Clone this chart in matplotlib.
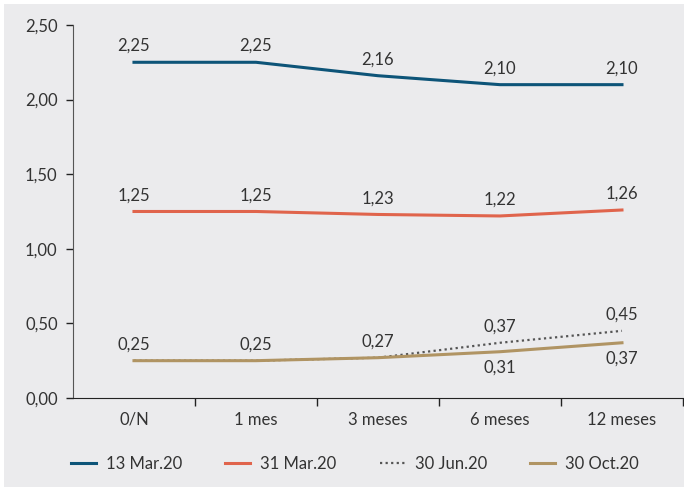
import matplotlib.pyplot as plt
from matplotlib.patches import Rectangle

plt.rcParams['font.family'] = ['Lato', 'DejaVu Sans']

categories = ['0/N', '1 mes', '3 meses', '6 meses', '12 meses']
series_names = ['13 Mar.20', '31 Mar.20', '30 Jun.20', '30 Oct.20']
mar13 = [2.25, 2.25, 2.16, 2.10, 2.10]
mar31 = [1.25, 1.25, 1.23, 1.22, 1.26]
jun30 = [0.25, 0.25, 0.27, 0.37, 0.45]
oct30 = [0.25, 0.25, 0.27, 0.31, 0.37]

bg = '#ebebed'
txt = '#333333'
colors = ['#0d5478', '#e0644c', '#555555', '#b09463']

fig = plt.figure(figsize=(6.84, 4.87), dpi=100)
fig.patch.set_facecolor('white')
fig.patches.append(Rectangle((0.006, 0), 0.994, 0.992, transform=fig.transFigure,
                             facecolor=bg, edgecolor='none', zorder=-10))
ax = fig.add_axes([0.1067, 0.1828, 0.8918, 0.7659])
ax.set_facecolor(bg)

x = range(len(categories))
ax.plot(x, mar13, color=colors[0], lw=2.2, label=series_names[0])
ax.plot(x, mar31, color=colors[1], lw=2.2, label=series_names[1])
ax.plot(x, jun30, color=colors[2], lw=1.6, ls=(0, (1, 1.5)), label=series_names[2])
ax.plot(x, oct30, color=colors[3], lw=2.2, label=series_names[3])

def fmt(v):
    return f'{v:.2f}'.replace('.', ',')

# labels above the lines
for vals in (mar13, mar31, jun30):
    for i, v in enumerate(vals):
        ax.annotate(fmt(v), (i, v), xytext=(0, 6), textcoords='offset points',
                    ha='center', va='bottom', fontsize=12, color=txt)
# Oct labels below where they differ from Jun
for i, v in enumerate(oct30):
    if v != jun30[i]:
        ax.annotate(fmt(v), (i, v), xytext=(0, -6), textcoords='offset points',
                    ha='center', va='top', fontsize=12, color=txt)

ax.set_xlim(-0.5, 4.5)
ax.set_ylim(0, 2.5)
ax.set_yticks([0, 0.5, 1.0, 1.5, 2.0, 2.5])
ax.set_yticklabels([fmt(v) for v in [0, 0.5, 1.0, 1.5, 2.0, 2.5]], fontsize=12, color=txt)
ax.set_xticks(list(x))
ax.set_xticklabels(categories, fontsize=12, color=txt)
ax.tick_params(axis='x', which='major', length=0, pad=10)
ax.set_xticks([0.5, 1.5, 2.5, 3.5, 4.5], minor=True)
ax.tick_params(axis='x', which='minor', length=6, width=1, color='#222222', direction='out')
ax.tick_params(axis='y', length=5, width=1, color='#222222', pad=6)

for s in ('top', 'right'):
    ax.spines[s].set_visible(False)
ax.spines['left'].set_color('#555555')
ax.spines['bottom'].set_color('#222222')

ax.legend(loc='upper center', bbox_to_anchor=(0.462, -0.115), ncol=4, frameon=False,
          fontsize=12, handlelength=1.5, handletextpad=0.6, columnspacing=2.6,
          labelcolor=txt)

fig.savefig('out.png', dpi=100, facecolor=fig.get_facecolor())
